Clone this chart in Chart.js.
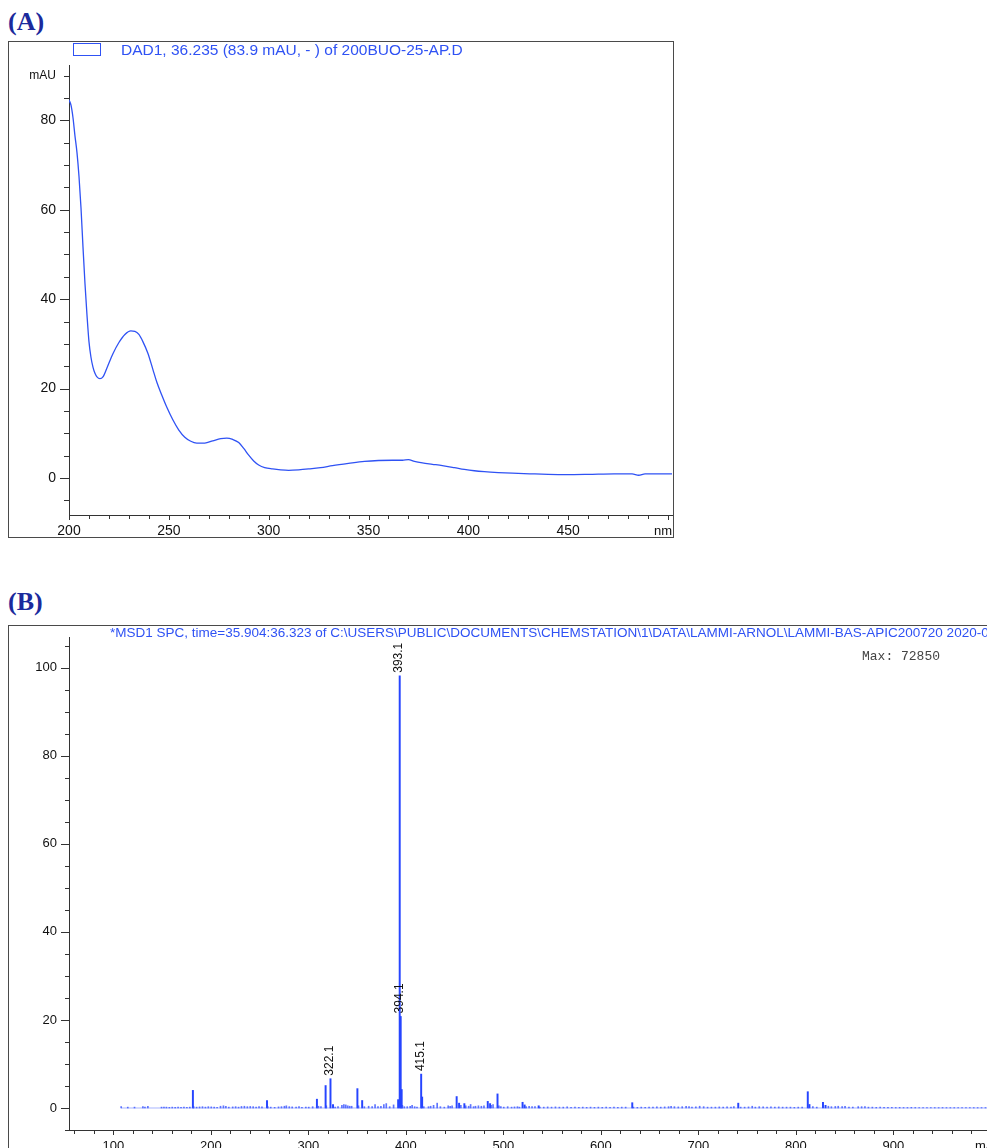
<!DOCTYPE html>
<html>
<head>
<meta charset="utf-8">
<script src="https://cdn.jsdelivr.net/npm/chart.js@4.4.1/dist/chart.umd.min.js"></script>
<style>
html, body { margin: 0; padding: 0; background: #fff; width: 987px; height: 1148px; overflow: hidden; }
.tag { position: absolute; left: 8px; font: bold 26px "Liberation Serif", "Times New Roman", serif; color: #1b2a9c; }
#boxA { position: absolute; left: 8px; top: 41px; width: 666px; height: 497px; }
#boxB { position: absolute; left: 8px; top: 625px; width: 1010px; height: 540px; }
</style>
</head>
<body>
<div class="tag" style="top:7px">(A)</div>
<div class="tag" style="top:587px">(B)</div>
<div id="boxA"><canvas id="uvChart"></canvas></div>
<div id="boxB"><canvas id="msChart"></canvas></div>

<script>
// (A) UV spectrum, DAD1 at 36.235 min
const wavelengthNm = [200, 201, 202, 203, 204, 205, 206, 207, 208, 209, 210, 211, 212, 213, 214, 215.5, 217, 219, 222, 225,
  228, 231, 233, 235, 237, 239.5, 242, 244, 246.5, 249, 252, 255, 258, 261, 264, 268, 272, 276, 279, 282,
  285, 287.5, 290, 292.5, 295, 298, 302, 306, 310, 315, 320, 326, 332, 340, 348, 355, 362, 367, 370, 373,
  377, 382, 387, 393, 398, 403, 408, 415, 422, 432, 440, 449, 460, 473, 482, 485.3, 488.5, 495, 502];
const absorbanceMAU = [84.6, 83.4, 80.6, 76.5, 72.8, 67.5, 60.5, 51.7, 43.5, 36.5, 30.5, 27, 24.8, 23.4, 22.6, 22.2, 22.6, 24.6, 27.8, 30.3,
  32.1, 32.9, 32.8, 32.1, 30.5, 27.9, 24.3, 21.4, 18.5, 15.8, 13, 10.7, 9.1, 8.2, 7.8, 7.8, 8.3, 8.8, 8.9, 8.6,
  7.9, 6.6, 5.1, 3.8, 2.9, 2.3, 2.0, 1.8, 1.7, 1.8, 2.0, 2.3, 2.75, 3.25, 3.7, 3.9, 3.95, 3.95, 4.1, 3.7,
  3.35, 3.05, 2.75, 2.3, 1.9, 1.6, 1.4, 1.2, 1.05, 0.9, 0.8, 0.75, 0.8, 0.9, 0.9, 0.6, 0.9, 0.9, 0.9];
const uvXTicks = [200, 250, 300, 350, 400, 450];
const uvYTicks = [0, 20, 40, 60, 80, 90];

// (B) mass spectrum, relative abundance (%)
const peakMz = [181.0, 257.0, 308.2, 317.1, 322.1, 324.7, 349.7, 354.6, 391.5, 393.1, 394.1, 395.1, 415.1, 416.1,
  451.5, 454.0, 459.4, 483.4, 485.8, 493.4, 519.1, 521.2, 535.6, 631.6, 740.3, 811.6, 813.3, 827.2, 829.8];
const peakAbundance = [4.0, 1.7, 2.0, 5.1, 6.65, 0.8, 4.4, 1.7, 1.9, 98.2, 20.8, 4.2, 7.7, 2.5,
  2.6, 1.1, 1.0, 1.5, 1.0, 3.2, 1.3, 0.7, 0.5, 1.2, 1.1, 3.7, 0.8, 1.3, 0.6];
const labelledPeaks = [393.1, 394.1, 322.1, 415.1];
const minorPeaks = [
  [108.6, 0.3], [115.4, 0.2], [122.3, 0.2], [130.9, 0.3], [133, 0.2], [136, 0.4], [150, 0.2], [152.5, 0.2], [155, 0.2],
  [158, 0.15], [161, 0.2], [164, 0.15], [167, 0.2], [170, 0.15], [173, 0.2], [176, 0.15], [179, 0.2], [183, 0.3],
  [186, 0.2], [189, 0.25], [192, 0.3], [195, 0.2], [198, 0.3], [201, 0.25], [204, 0.2], [207, 0.15], [210.5, 0.4],
  [213.5, 0.5], [216, 0.4], [219, 0.2], [223, 0.25], [226, 0.3], [229, 0.2], [232, 0.35], [235, 0.4], [238, 0.3],
  [241, 0.35], [244, 0.3], [247, 0.2], [250, 0.3], [253, 0.25], [259, 0.3], [262, 0.2], [266, 0.15], [270, 0.25],
  [273, 0.3], [276, 0.4], [278, 0.5], [281, 0.3], [284, 0.25], [288, 0.2], [291, 0.3], [294, 0.15], [298, 0.2],
  [301, 0.2], [305, 0.3], [311, 0.4], [313.5, 0.3], [319, 0.5], [328, 0.2], [331, 0.3], [335, 0.6], [337, 0.8],
  [339, 0.7], [341, 0.5], [343, 0.4], [345, 0.4], [352, 0.5], [358, 0.3], [362.4, 0.4], [366, 0.3], [369, 0.8],
  [372, 0.3], [375, 0.4], [378, 0.8], [380.5, 1.0], [384, 0.3], [388, 0.7], [397, 0.6], [399, 0.3], [402, 0.3],
  [405, 0.4], [407, 0.6], [409.6, 0.3], [412, 0.2], [419, 0.3], [423.8, 0.3], [426, 0.4], [429, 0.6], [432.7, 1.1],
  [436, 0.3], [440, 0.2], [444, 0.5], [446, 0.4], [448, 0.5], [457, 0.6], [462, 0.5], [465, 0.4], [467, 0.8],
  [470, 0.3], [472, 0.4], [475, 0.5], [478, 0.4], [480.7, 0.5], [488, 0.6], [490, 0.8], [496, 0.5], [498, 0.3],
  [501, 0.2], [505, 0.3], [509, 0.2], [512, 0.25], [515, 0.3], [517, 0.2], [524, 0.3], [527, 0.4], [530, 0.3],
  [533, 0.3], [538, 0.2], [542, 0.2], [546, 0.25], [550, 0.2], [554, 0.25], [558, 0.2], [562, 0.2], [566, 0.25],
  [570, 0.15], [574, 0.2], [578, 0.15], [582, 0.2], [586, 0.15], [590, 0.2], [594, 0.15], [598, 0.2], [602, 0.15],
  [606, 0.2], [610, 0.15], [614, 0.2], [618, 0.15], [622, 0.2], [626, 0.2], [634, 0.2], [638, 0.15], [642, 0.2],
  [646, 0.15], [650, 0.2], [654, 0.2], [658, 0.25], [662, 0.2], [666, 0.25], [670, 0.3], [672.6, 0.35], [676, 0.3],
  [680, 0.25], [684, 0.3], [688, 0.4], [691, 0.3], [694, 0.2], [698, 0.25], [701.9, 0.4], [706, 0.3], [710, 0.2],
  [714, 0.2], [718, 0.2], [722, 0.25], [726, 0.2], [730, 0.25], [734, 0.2], [737, 0.3], [744, 0.2], [748, 0.2],
  [752, 0.25], [755.8, 0.4], [759, 0.2], [763, 0.3], [767, 0.25], [771, 0.2], [775, 0.25], [779, 0.2], [783, 0.25],
  [787, 0.2], [791, 0.2], [795, 0.2], [799, 0.15], [803, 0.2], [807, 0.2], [818, 0.3], [822, 0.2], [833.9, 0.4],
  [837, 0.3], [841, 0.35], [844, 0.4], [848, 0.3], [851, 0.4], [855, 0.2], [859, 0.2], [864.5, 0.3], [868, 0.3],
  [871.4, 0.3], [875, 0.2], [879, 0.2], [883, 0.15], [887, 0.2], [891, 0.15], [895, 0.15], [899, 0.15], [903, 0.12],
  [907, 0.15], [911, 0.12], [915, 0.12], [919, 0.15], [923, 0.12], [927, 0.12], [931, 0.12], [935, 0.1], [939, 0.12],
  [943, 0.1], [947, 0.1], [951, 0.12], [955, 0.1], [959, 0.1], [963, 0.1], [967, 0.1], [971, 0.1], [975, 0.1],
  [979, 0.1], [983, 0.1], [987, 0.1], [991, 0.1], [995, 0.1], [999, 0.1]
];
const msBaseline = [[108, 0], [1000, 0]];
const msXTicks = [100, 200, 300, 400, 500, 600, 700, 800, 900];
const msYTicks = [0, 20, 40, 60, 80, 100];

const FONT = '"Liberation Sans", Arial, Helvetica, sans-serif';
const BLUE = '#2f52f4';

// frame, tick marks (major + minor), and free texts
const decor = {
  id: 'decor',
  afterDraw(chart, args, o) {
    const ctx = chart.ctx, a = chart.chartArea, sx = chart.scales.x, sy = chart.scales.y;
    ctx.save();
    ctx.strokeStyle = '#4a4a4a';
    ctx.lineWidth = 1;
    ctx.strokeRect(0.5, 0.5, chart.width - 1, chart.height - 1);

    ctx.strokeStyle = '#333';
    ctx.beginPath();
    for (let i = Math.ceil(sy.min / o.yMinor); i * o.yMinor <= sy.max; i++) {
      const v = i * o.yMinor;
      const y = Math.round(sy.getPixelForValue(v)) + 0.5;
      const len = v % o.yMajor === 0 ? o.yMajorLen : o.yMinorLen;
      ctx.moveTo(a.left - len, y);
      ctx.lineTo(a.left, y);
    }
    for (let i = Math.ceil(sx.min / o.xMinor); i * o.xMinor <= sx.max; i++) {
      const v = i * o.xMinor;
      const x = Math.round(sx.getPixelForValue(v)) + 0.5;
      const len = v % o.xMajor === 0 ? o.xMajorLen : o.xMinorLen;
      ctx.moveTo(x, a.bottom);
      ctx.lineTo(x, a.bottom + len);
    }
    ctx.stroke();

    // unit at the end of the x axis
    ctx.fillStyle = '#111';
    ctx.font = o.unitFont;
    ctx.textAlign = 'right';
    ctx.textBaseline = 'middle';
    ctx.fillText(o.unit, a.right, a.bottom + o.unitDy);

    if (o.legendBox) {
      const b = o.legendBox;
      ctx.strokeStyle = BLUE;
      ctx.strokeRect(b[0] + 0.5, b[1] + 0.5, b[2], b[3]);
    }
    (o.texts || []).forEach(t => {
      ctx.font = t.font;
      ctx.fillStyle = t.color;
      ctx.textAlign = 'left';
      ctx.textBaseline = 'middle';
      ctx.fillText(t.text, t.x, t.y);
    });
    ctx.restore();
  }
};

// rotated m/z labels on top of the annotated peaks
const peakTags = {
  id: 'peakTags',
  afterDatasetsDraw(chart, args, o) {
    if (!o.list) return;
    const ctx = chart.ctx, sx = chart.scales.x, sy = chart.scales.y;
    ctx.save();
    ctx.font = '12px ' + FONT;
    ctx.fillStyle = '#111';
    ctx.textAlign = 'left';
    ctx.textBaseline = 'middle';
    o.list.forEach(mz => {
      const i = peakMz.indexOf(mz);
      const x = sx.getPixelForValue(mz);
      const y = sy.getPixelForValue(peakAbundance[i]);
      ctx.save();
      ctx.translate(x, y - 3);
      ctx.rotate(-Math.PI / 2);
      ctx.fillText(mz.toFixed(1), 0, 0);
      ctx.restore();
    });
    ctx.restore();
  }
};

// fixed axis sizes, no extra label padding pushed into the layout
const fixY = w => s => { s.width = w; s.paddingTop = 0; s.paddingBottom = 0; };
const fixX = h => s => { s.height = h; s.paddingLeft = 0; s.paddingRight = 0; };

new Chart(document.getElementById('uvChart'), {
  type: 'line',
  data: {
    datasets: [{
      data: wavelengthNm.map((x, i) => ({ x: x, y: absorbanceMAU[i] })),
      borderColor: BLUE,
      borderWidth: 1.3,
      pointRadius: 0,
      cubicInterpolationMode: 'monotone',
      fill: false
    }]
  },
  options: {
    responsive: true,
    maintainAspectRatio: false,
    animation: false,
    layout: { padding: { top: 24, right: 2, left: 0, bottom: 0 } },
    plugins: {
      legend: { display: false },
      tooltip: { enabled: false },
      decor: {
        yMinor: 5, yMajor: 20, yMajorLen: 9, yMinorLen: 5,
        xMinor: 10, xMajor: 50, xMajorLen: 5, xMinorLen: 4,
        unit: 'nm', unitFont: '13px ' + FONT, unitDy: 16,
        legendBox: [65, 2, 27, 12],
        texts: [{ text: 'DAD1, 36.235 (83.9 mAU, - ) of 200BUO-25-AP.D', x: 113, y: 10, font: '15.5px ' + FONT, color: BLUE }]
      }
    },
    scales: {
      x: {
        type: 'linear', min: 200, max: 502,
        afterBuildTicks: s => { s.ticks = uvXTicks.map(v => ({ value: v })); },
        afterFit: fixX(23),
        grid: { display: false, drawTicks: false },
        border: { color: '#333' },
        ticks: { padding: 8, color: '#111', font: { size: 14, family: FONT }, maxRotation: 0, autoSkip: false }
      },
      y: {
        min: -8.3, max: 92.4,
        afterBuildTicks: s => { s.ticks = uvYTicks.map(v => ({ value: v })); },
        afterFit: fixY(61),
        grid: { display: false, drawTicks: false },
        border: { color: '#333' },
        ticks: {
          padding: 13, color: '#111',
          callback: v => v === 90 ? 'mAU' : v,
          font: c => ({ size: c.tick && c.tick.value === 90 ? 12 : 14, family: FONT })
        }
      }
    }
  },
  plugins: [decor]
});

new Chart(document.getElementById('msChart'), {
  type: 'bar',
  data: {
    datasets: [{
      type: 'line',
      data: msBaseline.map(p => ({ x: p[0], y: p[1] })),
      borderColor: 'rgba(60,90,255,0.45)',
      borderWidth: 1,
      pointRadius: 0
    }, {
      data: minorPeaks.map(p => ({ x: p[0], y: p[1] })),
      backgroundColor: 'rgba(40,70,255,0.75)',
      barThickness: 1
    }, {
      data: peakMz.map((x, i) => ({ x: x, y: peakAbundance[i] })),
      backgroundColor: '#2645ff',
      barThickness: 1.3
    }]
  },
  options: {
    responsive: true,
    maintainAspectRatio: false,
    animation: false,
    layout: { padding: { top: 12, right: 22, left: 0, bottom: 0 } },
    plugins: {
      legend: { display: false },
      tooltip: { enabled: false },
      decor: {
        yMinor: 5, yMajor: 20, yMajorLen: 8, yMinorLen: 4,
        xMinor: 20, xMajor: 100, xMajorLen: 5, xMinorLen: 4,
        unit: 'm/z', unitFont: '13px ' + FONT, unitDy: 16,
        texts: [
          { text: '*MSD1 SPC, time=35.904:36.323 of C:\\USERS\\PUBLIC\\DOCUMENTS\\CHEMSTATION\\1\\DATA\\LAMMI-ARNOL\\LAMMI-BAS-APIC200720 2020-07-20', x: 102, y: 8, font: '13.5px ' + FONT, color: BLUE },
          { text: 'Max: 72850', x: 854, y: 32, font: '13px "Liberation Mono", "Courier New", monospace', color: '#444' }
        ]
      },
      peakTags: { list: labelledPeaks }
    },
    scales: {
      x: {
        type: 'linear', min: 54.6, max: 1005.3, offset: false,
        afterBuildTicks: s => { s.ticks = msXTicks.map(v => ({ value: v })); },
        afterFit: fixX(35),
        grid: { display: false, drawTicks: false },
        border: { color: '#333' },
        ticks: { padding: 9, color: '#111', font: { size: 13, family: FONT }, maxRotation: 0, autoSkip: false }
      },
      y: {
        min: -5, max: 107,
        afterBuildTicks: s => { s.ticks = msYTicks.map(v => ({ value: v })); },
        afterFit: fixY(61),
        grid: { display: false, drawTicks: false },
        border: { color: '#333' },
        ticks: { padding: 12, color: '#111', font: { size: 13, family: FONT } }
      }
    }
  },
  plugins: [decor, peakTags]
});
</script>
</body>
</html>
